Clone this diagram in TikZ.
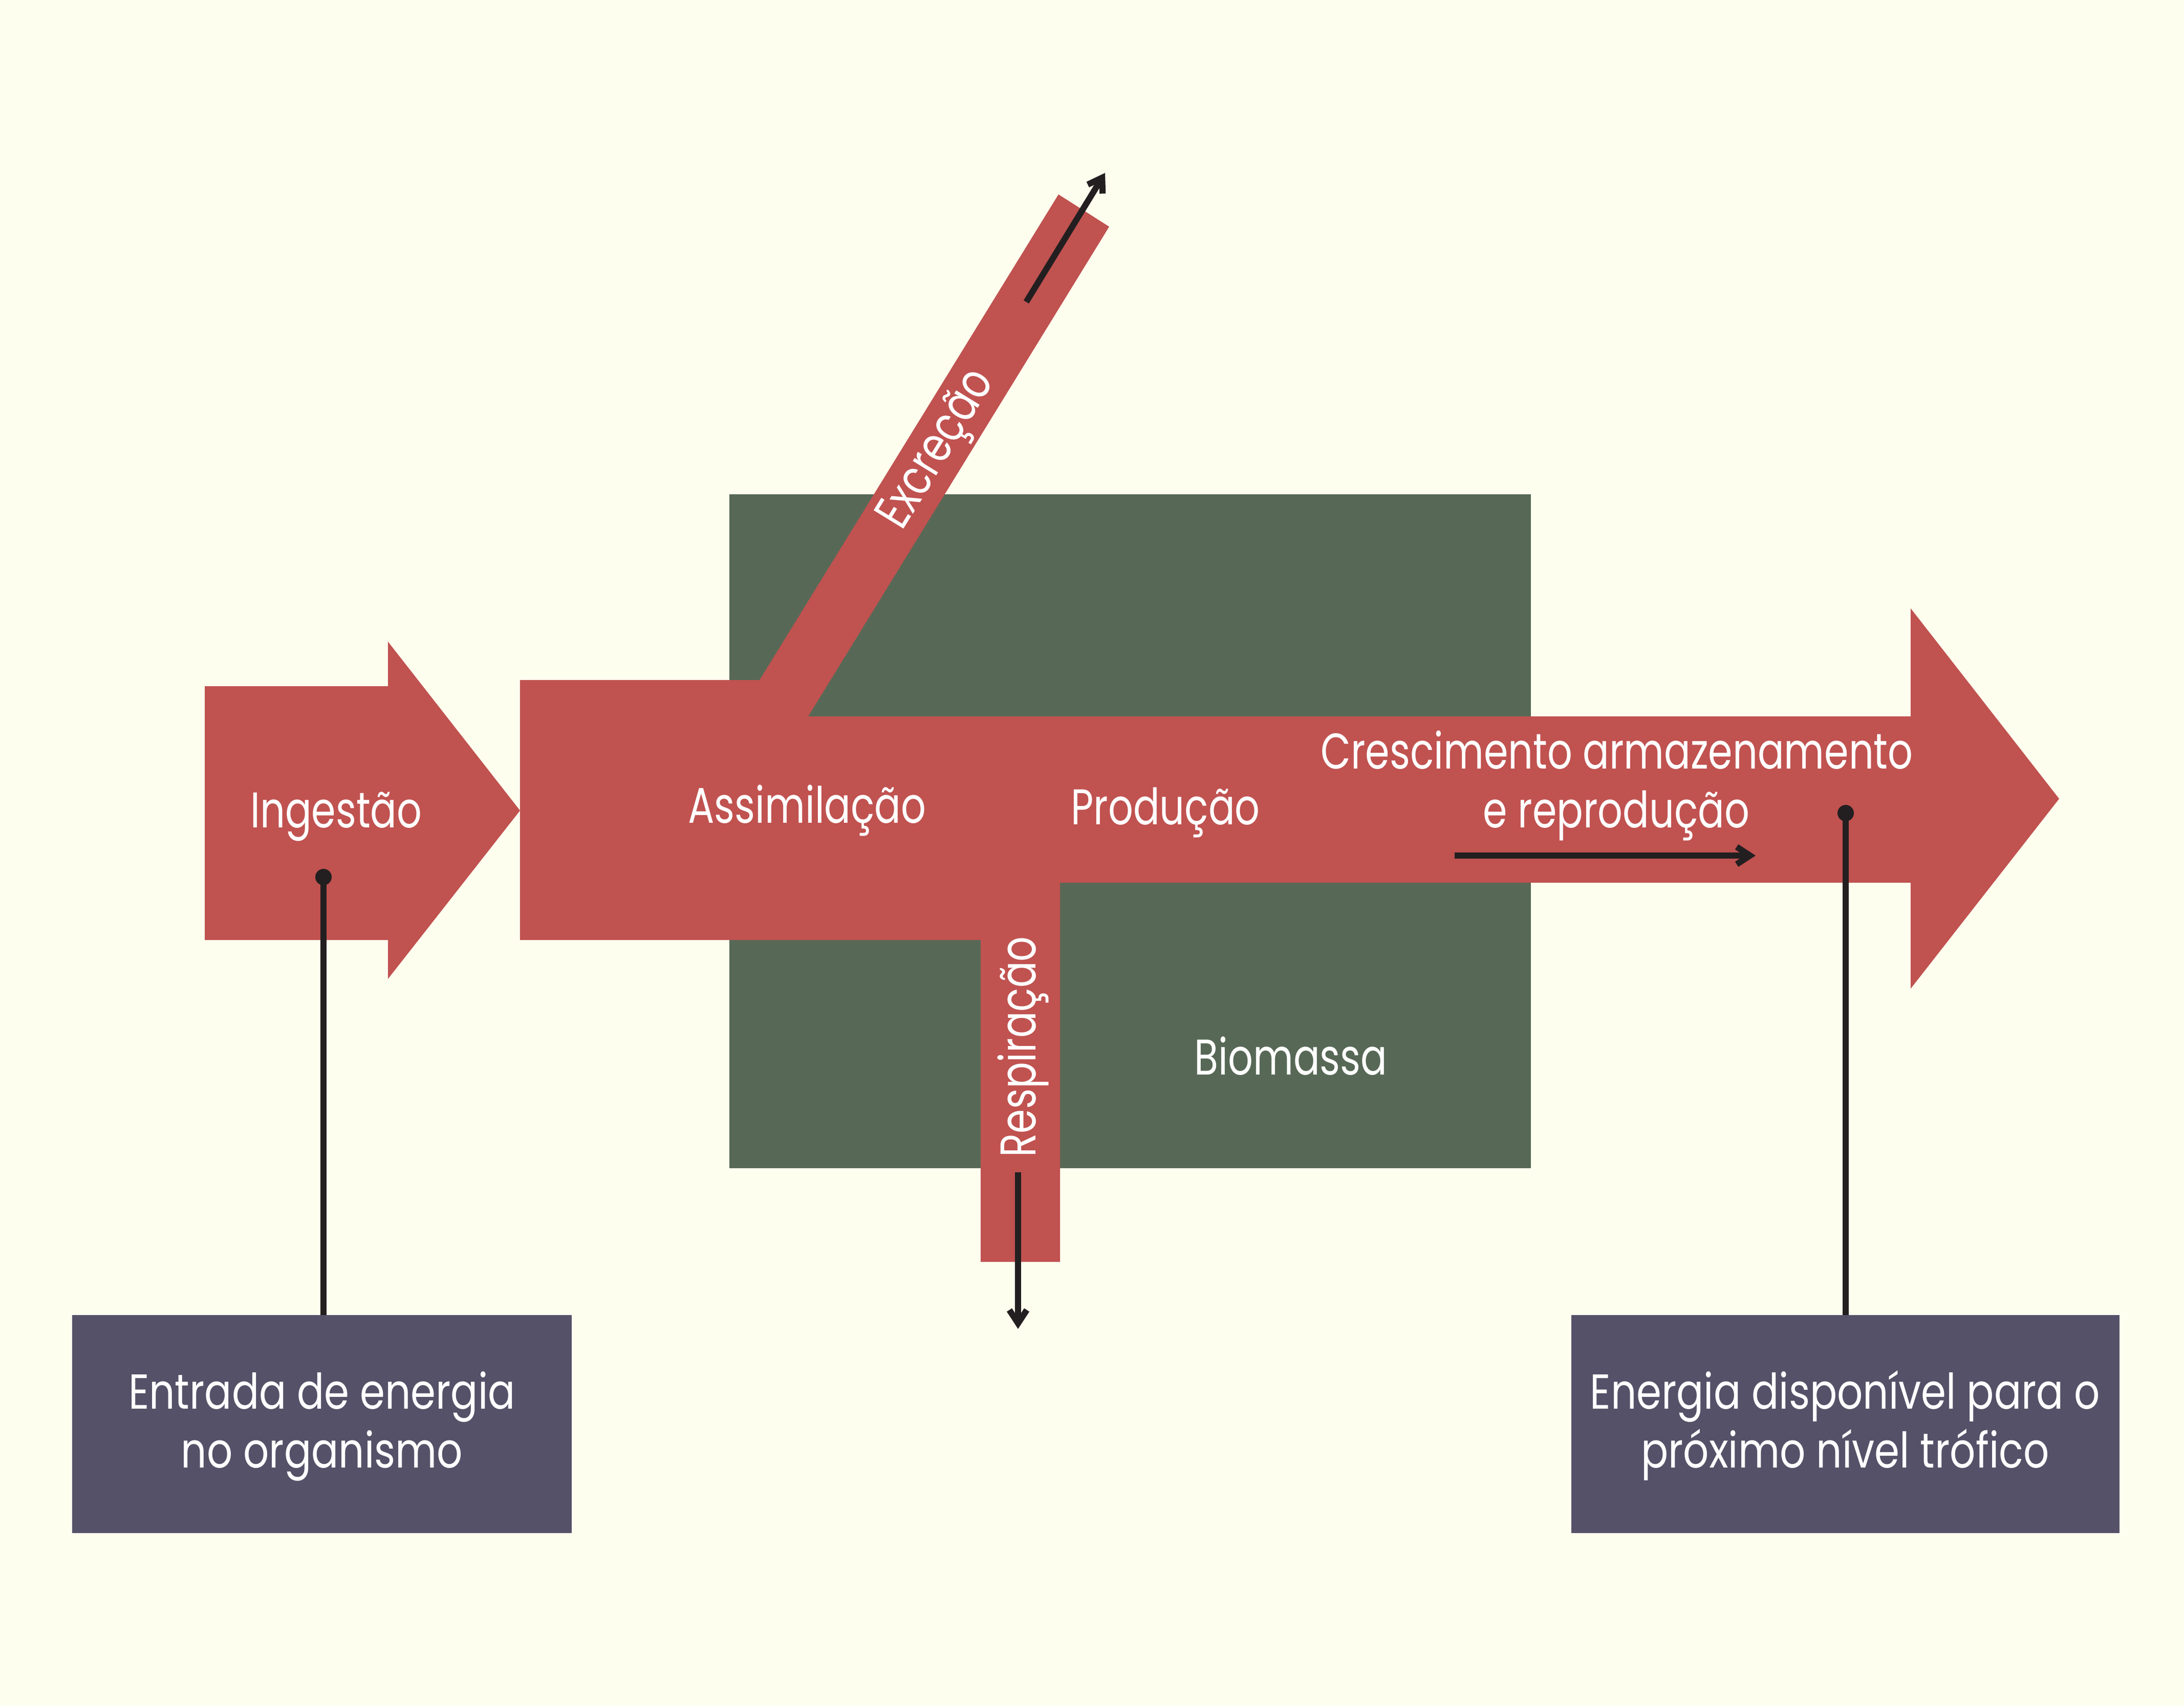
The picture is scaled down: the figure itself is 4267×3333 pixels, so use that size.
\documentclass[tikz,border=0pt]{standalone}
\usepackage{fontspec}
\newfontfamily\lblfont{Poppins}[FakeStretch=0.78]
\newfontfamily\boxfont{Poppins}[FakeStretch=0.82]
\usetikzlibrary{arrows.meta}
\definecolor{bgc}{HTML}{FDFEEE}
\definecolor{redc}{HTML}{C05250}
\definecolor{greenc}{HTML}{576956}
\definecolor{purplec}{HTML}{555168}
\definecolor{inkc}{HTML}{231F20}
\begin{document}
\begin{tikzpicture}[x=1pt,y=-1pt,
  lbl/.style={text=white,font={\lblfont\fontsize{98}{115}\selectfont},inner sep=0pt,anchor=base},
  boxlbl/.style={lbl,font={\boxfont\fontsize{96}{115}\selectfont}},
  flow/.style={line width=12pt,draw=inkc,-{Straight Barb[length=26pt,width=34pt]}},
  lead/.style={line width=12pt,draw=inkc},
  dotc/.style={circle,fill=inkc,minimum size=32pt,inner sep=0pt},
  infobox/.style={rectangle,fill=purplec,inner sep=0pt,anchor=north west,minimum height=426pt}
]
\fill[bgc] (0,0) rectangle (4267,3333);
\useasboundingbox (0,0) rectangle (4267,3333);

% biomass block
\fill[greenc] (1425,966) rectangle (2991,2283);

% ingestion arrow
\fill[redc] (400,1341) -- (758,1341) -- (758,1254) -- (1016,1584) -- (758,1913) -- (758,1837) -- (400,1837) -- cycle;

% main flow shape
\fill[redc] (1016,1329) -- (1484,1329) -- (2068,380) -- (2167,443) -- (1579,1400)
  -- (3733,1400) -- (3733,1189) -- (4023,1561) -- (3733,1932) -- (3733,1725)
  -- (2071,1725) -- (2071,2466) -- (1916,2466) -- (1916,1837) -- (1016,1837) -- cycle;

% labels
\node[lbl] (ing) at (657,1617) {Ingestão};
\node[lbl] (assim) at (1577,1608) {Assimilação};
\node[lbl] (prod) at (2277,1611) {Produção};
\node[lbl] (cresc1) at (3159,1502) {Crescimento armazenamento};
\node[lbl] (cresc2) at (3158,1617) {e reprodução};
\node[lbl] (bio) at (2522,2100) {Biomassa};
\node[lbl,rotate=90] (resp) at (2023,2046) {Respiração};
\node[lbl,rotate=58.4] (excr) at (1853,892) {Excreção};

% flow arrows
\coordinate (exA) at (2005,590);
\coordinate (exB) at (2159,338);
\draw[flow] (exA) -- (exB);
\coordinate (reA) at (1989,2291);
\coordinate (reB) at (1989,2597);
\draw[flow] (reA) -- (reB);
\coordinate (grA) at (2842,1672);
\coordinate (grB) at (3430,1672);
\draw[flow] (grA) -- (grB);

% info boxes
\node[infobox,minimum width=976pt] (boxL) at (141,2570) {};
\node[infobox,minimum width=1071pt] (boxR) at (3070,2570) {};
\node[boxlbl] (boxL1) at (629,2753) {Entrada de energia};
\node[boxlbl] (boxL2) at (629,2868) {no organismo};
\node[boxlbl] (boxR1) at (3605,2753) {Energia disponível para o};
\node[boxlbl] (boxR2) at (3605,2868) {próximo nível trófico};

% leader lines
\node[dotc] (dotL) at (632,1714) {};
\node[dotc] (dotR) at (3606,1589) {};
\draw[lead] (dotL.center) -- (dotL.center |- boxL.north);
\draw[lead] (dotR.center) -- (dotR.center |- boxR.north);
\end{tikzpicture}
\end{document}
